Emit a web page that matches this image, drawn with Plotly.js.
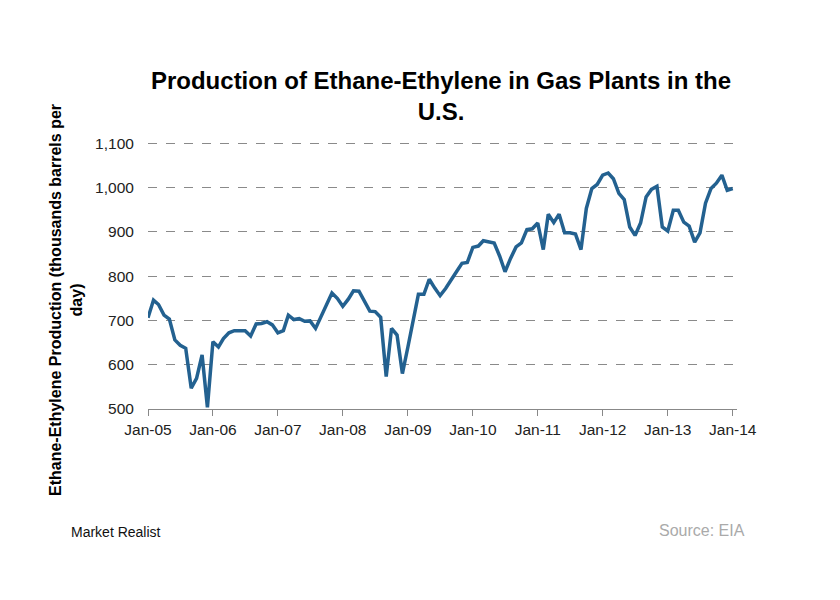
<!DOCTYPE html>
<html>
<head>
<meta charset="utf-8">
<script src="https://cdn.plot.ly/plotly-3.0.1.min.js"></script>
<style>html,body{margin:0;padding:0;background:#fff;}#chart{width:840px;height:600px;}</style>
</head>
<body>
<div id="chart"></div>
<script>
// Monthly production, thousands barrels per day (Jan to Dec of each year)
const v2005 = [706, 746, 736, 712, 703, 656, 644, 637, 547, 569, 622, 504];
const v2006 = [652, 640, 659, 672, 677, 677, 677, 665, 692, 693, 697, 690];
const v2007 = [672, 677, 712, 702, 704, 698, 699, 682, 710, 736, 762, 750];
const v2008 = [732, 748, 767, 766, 745, 721, 720, 707, 573, 682, 667, 580];
const v2009 = [640, 700, 759, 759, 793, 773, 756, 772, 790, 810, 829, 831];
const v2010 = [865, 868, 880, 878, 875, 845, 810, 840, 866, 875, 905, 907];
const v2011 = [920, 860, 940, 921, 940, 898, 898, 895, 860, 953, 998, 1007];
const v2012 = [1028, 1033, 1020, 987, 973, 911, 892, 920, 979, 996, 1003, 911];
const v2013 = [902, 949, 949, 922, 913, 877, 898, 965, 998, 1010, 1028, 994];
const v2014 = [998];

const years = [2005, 2006, 2007, 2008, 2009, 2010, 2011, 2012, 2013, 2014];
const yearValues = [v2005, v2006, v2007, v2008, v2009, v2010, v2011, v2012, v2013, v2014];

const tickLabels = ["Jan-05", "Jan-06", "Jan-07", "Jan-08", "Jan-09", "Jan-10", "Jan-11", "Jan-12", "Jan-13", "Jan-14"];
const tickDates = years.map(y => y + "-01-01");

const xs = [], ys = [];
yearValues.forEach((arr, k) => {
  arr.forEach((v, m) => {
    xs.push(years[k] + "-" + String(m + 1).padStart(2, "0") + "-01");
    ys.push(v);
  });
});

const trace = {
  x: xs, y: ys, type: "scatter", mode: "lines",
  line: {color: "#236190", width: 3.5},
  hoverinfo: "x+y"
};

const layout = {
  width: 840, height: 600,
  margin: {l: 148, r: 103, t: 142, b: 191},
  paper_bgcolor: "#fff", plot_bgcolor: "#fff",
  showlegend: false,
  font: {family: "Liberation Sans, Arial, sans-serif", color: "#333"},
  title: {
    text: "<b>Production of Ethane-Ethylene in Gas Plants in the<br>U.S.</b>",
    font: {family: "Liberation Sans, Arial, sans-serif", size: 24, color: "#000"},
    x: 0.525, xanchor: "center", y: 0.852, yanchor: "top"
  },
  xaxis: {
    type: "date",
    range: ["2005-01-01", "2014-01-25"],
    tickvals: tickDates, ticktext: tickLabels,
    ticks: "outside", ticklen: 6, tickcolor: "#888", tickwidth: 1,
    showline: true, linecolor: "#888", linewidth: 1,
    showgrid: false, zeroline: false,
    tickfont: {size: 15.5, color: "#222"}
  },
  yaxis: {
    range: [500, 1103],
    tickvals: [500, 600, 700, 800, 900, 1000, 1100],
    ticktext: ["500", "600", "700", "800", "900", "1,000", "1,100"],
    ticks: "outside", ticklen: 10, tickcolor: "rgba(0,0,0,0)",
    showline: false, zeroline: false,
    showgrid: true, gridcolor: "#8a8a8a", gridwidth: 1, griddash: "dash",
    tickfont: {size: 15.5, color: "#222"}
  },
  annotations: [
    {text: "<b>Ethane-Ethylene Production (thousands barrels per<br>day)</b>",
     xref: "paper", yref: "paper", textangle: -90,
     x: (66 - 148) / 589, y: (409 - 300) / 267, xanchor: "center", yanchor: "middle",
     showarrow: false, font: {family: "Liberation Sans, Arial, sans-serif", size: 16, color: "#000"}},
    {text: "Market Realist", xref: "paper", yref: "paper",
     x: (69 - 148) / 589, y: -(532 - 409) / 267, xanchor: "left", yanchor: "middle",
     showarrow: false, font: {family: "Liberation Sans Narrow, Liberation Sans, Arial", size: 14, color: "#111"}},
    {text: "Source: EIA", xref: "paper", yref: "paper",
     x: (747 - 148) / 589, y: -(530 - 409) / 267, xanchor: "right", yanchor: "middle",
     showarrow: false, font: {family: "Liberation Sans Narrow, Liberation Sans, Arial", size: 16, color: "#aaaaaa"}}
  ]
};

Plotly.newPlot("chart", [trace], layout, {displayModeBar: false, staticPlot: true});
</script>
</body>
</html>
